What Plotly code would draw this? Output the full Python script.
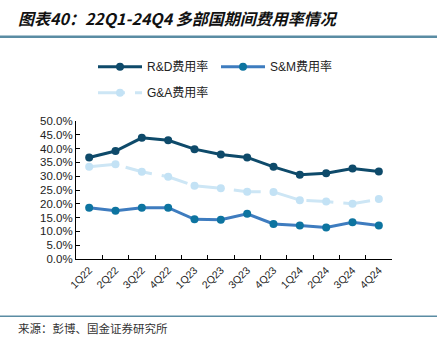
import plotly.graph_objects as go

quarters = ["1Q22", "2Q22", "3Q22", "4Q22", "1Q23", "2Q23", "3Q23", "4Q23",
            "1Q24", "2Q24", "3Q24", "4Q24"]
rd_rate = [36.8, 39.1, 43.9, 43.0, 39.8, 37.9, 36.8, 33.4, 30.5, 31.1, 32.8, 31.7]
sm_rate = [18.6, 17.5, 18.6, 18.6, 14.4, 14.2, 16.4, 12.7, 12.1, 11.4, 13.3, 12.1]
ga_rate = [33.4, 34.3, 31.6, 29.8, 26.5, 25.6, 24.4, 24.3, 21.3, 20.8, 20.0, 21.7]

font_latin = "Liberation Sans, Arial, Noto Sans CJK SC"

fig = go.Figure()
fig.add_trace(go.Scatter(
    x=quarters, y=rd_rate, name="R&D费用率", mode="lines+markers",
    line=dict(color="#0e4a6a", width=3), marker=dict(color="#0e4a6a", size=8),
    legend="legend"))
fig.add_trace(go.Scatter(
    x=quarters, y=sm_rate, name="S&M费用率", mode="lines+markers",
    line=dict(color="#3e7cbf", width=3), marker=dict(color="#0d74a0", size=8),
    legend="legend"))
fig.add_trace(go.Scatter(
    x=quarters, y=ga_rate, name="G&A费用率", mode="lines+markers",
    line=dict(color="#cde6f5", width=3, dash="27px,10px"),
    marker=dict(color="#c3e2f5", size=8),
    legend="legend2"))

L, R, T, B = 76, 54, 121, 77.5
W, H = 446, 337
pw, ph = W - L - R, H - T - B

def px(x):
    return (x - L) / pw

def py(y):
    return (H - B - y) / ph

fig.update_layout(
    width=W, height=H,
    margin=dict(l=L, r=R, t=T, b=B),
    paper_bgcolor="white", plot_bgcolor="white",
    font=dict(family=font_latin, size=11, color="#222222"),
    showlegend=True,
    legend=dict(orientation="h", x=px(93), y=py(52), xanchor="left", yanchor="top",
                font=dict(size=12, color="#222222"), itemwidth=44,
                bgcolor="rgba(0,0,0,0)", entrywidth=64),
    legend2=dict(orientation="h", x=px(93), y=py(78), xanchor="left", yanchor="top",
                 font=dict(size=12, color="#222222"), itemwidth=44,
                 bgcolor="rgba(0,0,0,0)"),
    xaxis=dict(
        type="category", range=[-0.5, 11.5], showline=True, linecolor="black",
        linewidth=1, ticks="inside", ticklen=4, tickcolor="black",
        tickson="boundaries", showgrid=False, tickangle=-45,
        tickfont=dict(size=10.5, color="#222222")),
    yaxis=dict(
        range=[0, 50], dtick=5, showline=True, linecolor="black", linewidth=1,
        ticks="inside", ticklen=4, tickcolor="black", showgrid=False,
        ticksuffix="%", tickformat=".1f", zeroline=False,
        tickfont=dict(size=11.5, color="#222222")),
)

fig.add_annotation(
    x=px(16), y=py(18), xref="paper", yref="paper", xanchor="left", yanchor="middle",
    text="<b><i>图表40：22Q1-24Q4 多部国期间费用率情况</i></b>", showarrow=False,
    font=dict(family="Noto Sans CJK SC", size=16, color="#111111"))
fig.add_annotation(
    x=px(16), y=py(329), xref="paper", yref="paper", xanchor="left", yanchor="middle",
    text="来源：彭博、国金证券研究所", showarrow=False,
    font=dict(family="Noto Sans CJK SC", size=11.5, color="#333333"))

fig.add_shape(type="line", xref="paper", yref="paper", x0=px(0), x1=px(437),
              y0=py(36.5), y1=py(36.5), line=dict(color="#5a8ca3", width=2.5))
fig.add_shape(type="line", xref="paper", yref="paper", x0=px(0), x1=px(437),
              y0=py(317), y1=py(317), line=dict(color="#5a8ca3", width=1.5))

fig.write_html("out.html")
